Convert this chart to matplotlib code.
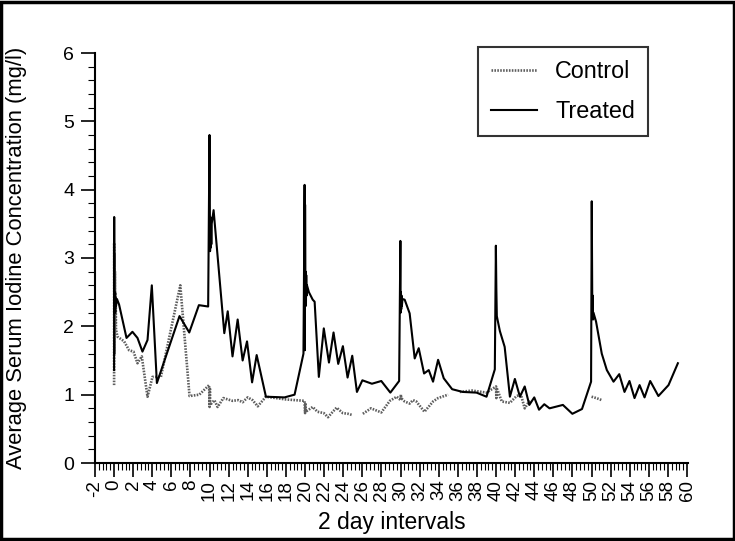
import numpy as np
import matplotlib
matplotlib.use("Agg")
import matplotlib.pyplot as plt
from matplotlib.ticker import MultipleLocator
from matplotlib.patches import Rectangle

nan = np.nan

treated_x = [0.0, 0.01, 0.03, 0.05, 0.07, 0.09, 0.12, 0.15, 0.2, 0.3, 0.52, 1.3, 1.92, 2.45, 2.97, 3.5, 3.95, 4.48,
             6.85, 7.87, 8.88, 9.85, 9.99, 10.02, 10.05, 10.08, 10.11, 10.14, 10.18, 10.22, 10.42, 11.54, 11.9, 12.4,
             12.94, 13.46, 13.92, 14.45, 14.93, 15.9, 17.84, 18.9, 19.83, 19.95, 19.98, 20.0, 20.03, 20.06, 20.09,
             20.12, 20.16, 20.2, 20.4, 20.8, 21.0, 21.44, 21.96, 22.5, 22.98, 23.47, 23.96, 24.45, 24.94, 25.43,
             26.0, 27.0, 27.98, 28.93, 29.85, 29.98, 30.01, 30.04, 30.07, 30.1, 30.14, 30.2, 30.43, 30.95, 31.48,
             31.9, 32.46, 32.95, 33.4, 33.93, 34.52, 35.4, 36.5, 37.95, 39.0, 39.87, 39.98, 40.03, 40.08, 40.15,
             40.4, 40.9, 41.45, 41.97, 42.5, 43.0, 43.48, 44.0, 44.5, 45.05, 45.6, 47.0, 47.99, 49.0, 49.95, 50.02,
             50.05, 50.08, 50.12, 50.16, 50.2, 50.47, 51.07, 51.6, 52.3, 52.9, 53.45, 53.97, 54.5, 55.03, 55.55,
             56.14, 57.0, 58.06, 59.04]
treated_y = [1.36, 3.6, 2.2, 2.5, 2.25, 2.45, 2.2, 2.42, 2.3, 2.4, 2.32, 1.83, 1.92, 1.83, 1.63, 1.8, 2.6, 1.17,
             2.15, 1.91, 2.31, 2.29, 4.8, 3.9, 3.1, 3.6, 3.15, 3.55, 3.2, 3.5, 3.7, 1.9, 2.22, 1.56,
             2.1, 1.5, 1.78, 1.18, 1.58, 0.97, 0.96, 1.0, 1.6, 4.07, 1.65, 3.78, 2.6, 2.8, 2.3,
             2.75, 2.45, 2.6, 2.5, 2.39, 2.36, 1.26, 1.97, 1.47, 1.91, 1.45, 1.71, 1.25, 1.57, 1.04,
             1.21, 1.16, 1.2, 1.03, 1.2, 3.25, 2.2, 2.5, 2.25, 2.45, 2.3, 2.4, 2.39, 2.19, 1.53,
             1.68, 1.31, 1.36, 1.19, 1.51, 1.24, 1.08, 1.04, 1.03, 0.97, 1.37, 3.18, 2.55, 2.15, 2.1,
             1.93, 1.7, 0.97, 1.23, 0.97, 1.12, 0.85, 0.96, 0.78, 0.86, 0.8, 0.85, 0.72, 0.79, 1.19, 3.83,
             3.0, 2.2, 2.45, 2.1, 2.2, 2.07, 1.6, 1.36, 1.19, 1.3, 1.04, 1.2, 0.95, 1.14, 0.96,
             1.2, 0.98, 1.14, 1.46]

control_x = [0.0, 0.01, 0.03, 0.05, 0.07, 0.09, 0.12, 0.16, 0.2, 0.35, 1.05, 1.57, 2.03, 2.45, 2.9, 3.5, 4.02, 4.9,
             6.93, 7.9, 8.92, 9.95, 10.0, 10.03, 10.06, 10.5, 10.84, 11.44, 12.4, 13.0, 13.46, 13.99, 14.5, 15.04,
             15.9, 18.0, 19.94, 20.0, 20.03, 20.06, 20.8, 21.3, 21.96, 22.4, 22.9, 23.3, 23.96, 24.5, 25.0, nan,
             26.05, 26.9, 27.98, 28.88, 29.6, 30.0, 30.03, 30.06, 30.43, 30.95, 31.3, 31.65, 32.5, 33.4, 33.93,
             34.98, nan, 36.2, 37.5, 39.0, 40.0, 40.03, 40.06, 40.6, 41.45, 42.15, 42.6, 43.0, 43.55, nan,
             50.0, 50.5, 51.07]
control_y = [1.14, 3.22, 1.6, 3.05, 1.9, 2.8, 2.05, 2.5, 1.95, 1.85, 1.78, 1.65, 1.63, 1.46, 1.56, 0.97, 1.26, 1.26,
             2.6, 0.98, 1.0, 1.14, 0.82, 1.1, 0.85, 0.92, 0.82, 0.95, 0.91, 0.92, 0.89, 0.96, 0.92, 0.83,
             0.97, 0.93, 0.91, 0.73, 0.88, 0.75, 0.82, 0.75, 0.73, 0.67, 0.75, 0.81, 0.73, 0.72, 0.7, nan,
             0.72, 0.8, 0.74, 0.91, 0.97, 0.92, 1.0, 0.95, 0.9, 0.87, 0.92, 0.9, 0.75, 0.9, 0.95,
             1.0, nan, 1.04, 1.06, 1.03, 1.12, 0.95, 1.1, 0.9, 0.88, 0.98, 1.0, 0.8, 0.92, nan,
             0.97, 0.95, 0.92]

x_ticks = list(range(-2, 61, 2))
y_ticks = [0, 1, 2, 3, 4, 5, 6]

assert len(treated_x) == len(treated_y)
assert len(control_x) == len(control_y)

plt.rcParams['font.family'] = ['Liberation Sans', 'DejaVu Sans']

fig = plt.figure(figsize=(7.35, 5.41), dpi=100)
ax = fig.add_axes([95/735, 1-463/541, (688-95)/735, (463-53)/541])

ax.plot(control_x, control_y, color='#5e5e5e', lw=1.9, linestyle=(0, (0.6, 0.5)), label='Control')
ax.plot(treated_x, treated_y, color='black', lw=1.5, label='Treated')

ax.set_xlim(-2, 60.1)
ax.set_ylim(0, 6)
ax.set_xticks(x_ticks)
ax.set_xticklabels([str(t) for t in x_ticks], rotation=90)
ax.set_yticks(y_ticks)
ax.xaxis.set_minor_locator(MultipleLocator(0.4))
ax.yaxis.set_minor_locator(MultipleLocator(0.2))
ax.tick_params(axis='both', which='major', length=10, width=1.2, direction='out')
ax.tick_params(axis='both', which='minor', length=5, width=0.8, direction='out')
ax.tick_params(axis='x', which='major', pad=2, labelsize=13.5)
ax.tick_params(axis='y', which='major', pad=5, labelsize=14)
for s in ['top', 'right']:
    ax.spines[s].set_visible(False)
for s in ['left', 'bottom']:
    ax.spines[s].set_linewidth(1.5)

fig.text((95+688)/2/735, 1-522/541, '2 day intervals', ha='center', va='center', fontsize=16.5)
fig.text(17/735, 1-258/541, 'Average Serum Iodine Concentration (mg/l)', ha='center', va='center',
         rotation=90, fontsize=15.8)

leg = ax.legend(loc='upper right', bbox_to_anchor=(0.9325, 1.0146), borderaxespad=0, fontsize=16.8,
                frameon=True, fancybox=False, edgecolor='black', handlelength=1.95, handletextpad=0.8,
                borderpad=0.55, labelspacing=0.75)
leg.get_frame().set_linewidth(1.5)

fig.patches.append(Rectangle((0.002, 0.003), 0.996, 0.994, transform=fig.transFigure, fill=False,
                             edgecolor='black', lw=2.5))

fig.savefig('out.png', dpi=100)
